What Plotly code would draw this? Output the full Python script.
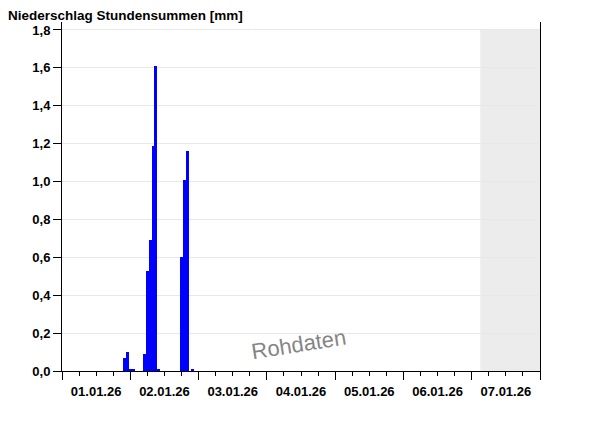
import plotly.graph_objects as go

# Stundensummen Niederschlag (Zeitpunkt = Mitte der Stunde)
zeiten = [
    "2026-01-01 22:00", "2026-01-01 23:00", "2026-01-02 00:00", "2026-01-02 01:00",
    "2026-01-02 05:00", "2026-01-02 06:00", "2026-01-02 07:00", "2026-01-02 08:00",
    "2026-01-02 09:00", "2026-01-02 10:00",
    "2026-01-02 18:00", "2026-01-02 19:00", "2026-01-02 20:00", "2026-01-02 22:00",
]
niederschlag = [
    0.07, 0.10, 0.01, 0.01,
    0.09, 0.53, 0.69, 1.19,
    1.61, 0.01,
    0.60, 1.01, 1.16, 0.01,
]

x_start = "2026-01-01 00:00"
x_ende = "2026-01-08 00:00"
zukunft_start = "2026-01-07 03:00"

schrift = "Liberation Sans, Arial"

fig = go.Figure()

fig.add_trace(go.Bar(
    x=zeiten,
    y=niederschlag,
    width=3600000,
    marker=dict(color="#0000ff", line=dict(width=0)),
    hoverinfo="x+y",
))

# grauer Bereich (noch keine Daten)
fig.add_shape(
    type="rect", xref="x", yref="y",
    x0=zukunft_start, x1=x_ende, y0=0, y1=1.8,
    fillcolor="#ececec", line=dict(width=0), layer="below",
)

fig.add_annotation(
    text="Rohdaten", xref="x", yref="y",
    x="2026-01-04 11:00", y=0.14,
    showarrow=False, textangle=-9,
    font=dict(family=schrift, size=22, color="#858585"),
)

# die Seite hat 8px Rand, daher Ränder etwas kleiner
fig.update_layout(
    width=600, height=426,
    margin=dict(l=54, r=68, t=14, b=63),
    paper_bgcolor="white",
    plot_bgcolor="white",
    separators=",.",
    showlegend=False,
    bargap=0,
    title=dict(
        text="<b>Niederschlag Stundensummen [mm]</b>",
        xref="container", x=0, xanchor="left",
        yref="container", y=0.993, yanchor="top",
        pad=dict(t=0, l=0),
        font=dict(family=schrift, size=13.5, color="black"),
    ),
    xaxis=dict(
        type="date",
        range=[x_start, x_ende],
        tick0=x_start,
        dtick=86400000,
        tickformat="%d.%m.%y",
        ticklabelmode="period",
        ticks="outside", ticklen=8, tickcolor="black",
        minor=dict(dtick=6 * 3600000, ticks="outside", ticklen=4, tickcolor="black"),
        showgrid=False,
        showline=True, linecolor="black", linewidth=1,
        tickfont=dict(family=schrift, size=13, color="black", weight="bold"),
        zeroline=False,
        automargin=False,
    ),
    yaxis=dict(
        range=[0, 1.842],
        tick0=0, dtick=0.2,
        tickformat=".1f",
        ticks="outside", ticklen=8, tickcolor="black",
        showgrid=True, gridcolor="#e8e8e8", gridwidth=1,
        showline=True, linecolor="black", linewidth=1, mirror=True,
        tickfont=dict(family=schrift, size=13, color="black", weight="bold"),
        zeroline=False,
        automargin=False,
    ),
)

fig.write_html("out.html")
